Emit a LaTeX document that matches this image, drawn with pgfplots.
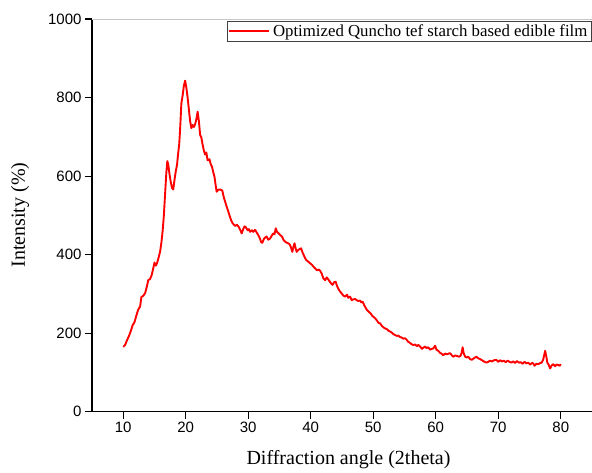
\documentclass[border=0pt]{standalone}
\usepackage{fontspec}
\setmainfont{Liberation Serif}
\newfontfamily\arial{Liberation Sans}
\usepackage{pgfplots}
\pgfplotsset{compat=1.18}
\begin{document}
\begin{tikzpicture}
\begin{axis}[
  scale only axis,
  width=500pt, height=392.7pt,
  xmin=5, xmax=85, ymin=0, ymax=1000,
  axis lines=left,
  axis line style={-, line width=1.2pt, black},
  xtick={10,20,...,80},
  ytick={0,200,...,1000},
  tick align=outside,
  major tick length=7pt,
  tick style={line width=1.1pt, black},
  /pgf/number format/assume math mode=true,
  /pgf/number format/1000 sep={},
  tick label style={font=\arial\fontsize{15}{18}\selectfont},
  xlabel={Diffraction angle (2theta)},
  ylabel={Intensity (\%)},
  label style={font=\fontsize{20}{24}\selectfont},
  xlabel style={at={(axis description cs:0.513,-0.1357)}, anchor=base},
  ylabel style={at={(axis description cs:-0.144,0.501)}, anchor=center, rotate=0},
  legend style={at={(rel axis cs:0.27,0.996)}, anchor=north west,
    draw=black!75, line width=0.6pt, inner xsep=1pt, inner ysep=1pt,
    font=\fontsize{16.8}{20}\selectfont,
    nodes={inner sep=2.8pt},
    /tikz/every even column/.style={column sep=0pt}},
  legend cell align=left,
  legend image code/.code={\draw[#1] (0pt,0pt) -- (40pt,0pt);},
]
\addplot[red, line width=1.9pt, line join=round] coordinates {
(10.0,165)(10.3,170)(10.6,182)(10.9,192)(11.2,205)(11.5,220)(11.8,228)(12.1,245)(12.4,260)(12.7,268)
(12.9,292)(13.2,295)(13.5,302)(13.8,320)(14.0,335)(14.3,338)(14.55,348)(14.8,365)(15.0,380)(15.2,372)
(15.4,378)(15.7,395)(15.9,408)(16.1,430)(16.3,460)(16.5,500)(16.7,556)(16.9,610)(17.05,638)(17.2,630)
(17.4,605)(17.6,585)(17.8,570)(18.0,566)(18.2,590)(18.4,612)(18.6,628)(18.8,660)(18.95,680)(19.1,720)
(19.3,785)(19.5,805)(19.7,830)(19.9,843)(20.1,825)(20.3,800)(20.5,770)(20.7,740)(20.9,722)(21.1,730)
(21.3,725)(21.5,732)(21.7,745)(21.9,764)(22.1,740)(22.3,705)(22.5,698)(22.7,680)(22.9,665)(23.1,655)
(23.3,660)(23.5,640)(23.8,643)(24.0,630)(24.2,624)(24.4,610)(24.6,598)(24.8,575)(24.95,560)(25.2,565)
(25.5,566)(25.85,563)(26.1,545)(26.3,535)(26.55,522)(26.8,510)(27.0,500)(27.25,488)(27.5,480)(27.9,473)
(28.2,476)(28.5,470)(28.75,462)(28.95,454)(29.2,465)(29.4,472)(29.6,470)(29.9,462)(30.1,465)(30.3,458)
(30.6,462)(30.8,458)(31.1,463)(31.4,455)(31.6,450)(31.9,440)(32.05,432)(32.25,430)(32.5,440)(32.75,444)
(32.95,446)(33.2,438)(33.5,441)(33.75,448)(34.0,454)(34.2,452)(34.4,467)(34.6,458)(34.8,455)(35.1,450)
(35.4,446)(35.7,436)(35.9,433)(36.2,430)(36.5,428)(36.7,424)(36.9,415)(37.05,407)(37.2,418)(37.4,429)
(37.6,415)(37.75,407)(38.0,412)(38.2,414)(38.45,416)(38.7,405)(38.9,398)(39.1,391)(39.3,386)(39.6,382)
(39.9,378)(40.2,374)(40.5,368)(40.7,365)(41.0,360)(41.3,362)(41.5,359)(41.8,350)(42.0,340)(42.3,335)
(42.55,342)(42.8,337)(43.1,330)(43.3,326)(43.5,323)(43.75,330)(44.0,331)(44.2,320)(44.45,312)(44.7,306)
(45.0,300)(45.2,296)(45.5,293)(45.8,298)(46.0,290)(46.3,293)(46.55,284)(46.8,286)(47.1,287)(47.35,284)
(47.6,282)(47.9,283)(48.1,278)(48.3,280)(48.6,270)(48.8,264)(49.0,259)(49.3,254)(49.6,250)(49.8,245)
(50.0,242)(50.3,238)(50.6,232)(50.85,226)(51.1,225)(51.4,218)(51.7,214)(51.9,212)(52.2,210)(52.45,206)
(52.7,204)(53.0,201)(53.2,198)(53.5,195)(53.8,193)(54.0,194)(54.3,190)(54.55,189)(54.8,186)(55.1,187)
(55.35,183)(55.6,178)(55.9,175)(56.1,172)(56.4,170)(56.7,171)(57.0,167)(57.2,170)(57.5,166)(57.8,160)
(58.0,163)(58.3,166)(58.5,162)(58.8,164)(59.1,158)(59.35,160)(59.6,161)(59.9,168)(60.1,158)(60.4,155)
(60.7,150)(60.9,148)(61.2,144)(61.5,148)(61.8,146)(62.05,148)(62.3,149)(62.6,143)(62.8,140)(63.1,143)
(63.4,142)(63.7,140)(63.95,142)(64.15,150)(64.3,164)(64.45,150)(64.7,140)(64.95,138)(65.2,140)(65.5,134)
(65.75,132)(66.0,135)(66.3,138)(66.5,140)(66.8,136)(67.1,134)(67.4,131)(67.7,128)(68.1,125)(68.4,127)
(68.7,130)(69.0,128)(69.3,131)(69.7,132)(70.0,127)(70.3,131)(70.6,128)(70.9,130)(71.2,126)(71.5,130)
(71.8,127)(72.1,125)(72.4,128)(72.7,124)(73.0,129)(73.3,125)(73.6,126)(73.9,122)(74.2,127)(74.5,123)
(74.8,125)(75.1,120)(75.4,124)(75.6,123)(75.8,117)(76.1,122)(76.4,121)(76.7,124)(76.95,125)(77.2,133)
(77.5,155)(77.7,140)(77.85,125)(78.05,120)(78.3,110)(78.55,118)(78.8,121)(79.1,116)(79.35,120)(79.6,119)
(79.85,117)(80.0,121)
};
\addlegendentry{Optimized Quncho tef starch based edible film}
\draw[black!22, line width=0.8pt] (rel axis cs:0,1) -- (rel axis cs:1,1) -- (rel axis cs:1,0);
\end{axis}
\pgfresetboundingbox
\path[use as bounding box] (-92pt,-60.3pt) rectangle (500pt,411.7pt);
\end{tikzpicture}
\end{document}
